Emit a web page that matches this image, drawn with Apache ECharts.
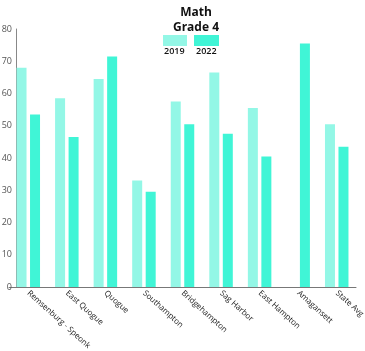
<!DOCTYPE html>
<html>
<head>
<meta charset="utf-8">
<script src="https://cdn.jsdelivr.net/npm/echarts@6/dist/echarts.min.js"></script>
<style>
  html, body { margin: 0; padding: 0; background: #fff; }
  #chart { width: 365px; height: 351px; }
</style>
</head>
<body>
<div id="chart"></div>
<script>
const schools = ['Remsenburg - Speonk', 'East Quogue', 'Quogue', 'Southampton', 'Bridgehampton', 'Sag Harbor', 'East Hampton', 'Amagansett', 'State Avg']
const scores2019 = [68, 58.5, 64.5, 33, 57.5, 66.5, 55.5, null, 50.5]
const scores2022 = [53.5, 46.5, 71.5, 29.5, 50.5, 47.5, 40.5, 75.5, 43.5]
const yTicks = [0, 10, 20, 30, 40, 50, 60, 70, 80]

const chart = echarts.init(document.getElementById('chart'))
const font = 'Open Sans'

chart.setOption({
  animation: false,
  title: {
    text: 'Math\nGrade 4',
    left: 191,
    top: 0,
    textAlign: 'center',
    textStyle: { fontFamily: font, fontWeight: 'bold', fontSize: 12, lineHeight: 15, color: '#111' },
  },
  graphic: [
    { type: 'rect', left: 163, top: 35, shape: { width: 24, height: 11 }, style: { fill: '#93f7e6' } },
    { type: 'rect', left: 194, top: 35, shape: { width: 25, height: 11 }, style: { fill: '#40f5d6' } },
    { type: 'text', left: 164, top: 47, style: { text: '2019', fontFamily: font, fontWeight: 600, fontSize: 9, fill: '#111' } },
    { type: 'text', left: 196, top: 47, style: { text: '2022', fontFamily: font, fontWeight: 600, fontSize: 9, fill: '#111' } },
  ],
  grid: {
    left: 9,
    right: 9,
    top: 29,
    bottom: 64,
    outerBoundsMode: 'none',
  },
  xAxis: {
    type: 'category',
    data: schools,
    axisTick: { show: false },
    axisLine: { lineStyle: { color: '#777', width: 1 } },
    axisLabel: {
      rotate: -42,
      interval: 0,
      margin: 5,
      fontFamily: font,
      fontSize: 8,
      color: '#222',
    },
  },
  yAxis: {
    type: 'value',
    min: 0,
    max: 80,
    interval: 10,
    offset: -7,
    splitLine: { show: false },
    axisTick: { show: false },
    axisLine: { show: true, lineStyle: { color: '#888', width: 1 } },
    axisLabel: {
      margin: 4,
      fontFamily: font,
      fontSize: 9,
      color: '#555',
      formatter: (v) => (yTicks.includes(v) ? String(v) : ''),
    },
  },
  series: [
    {
      name: '2019',
      type: 'bar',
      data: scores2019,
      barWidth: 10,
      barGap: '35%',
      itemStyle: { color: '#93f7e6' },
    },
    {
      name: '2022',
      type: 'bar',
      data: scores2022,
      barWidth: 10,
      itemStyle: { color: '#40f5d6' },
    },
  ],
})
</script>
</body>
</html>
